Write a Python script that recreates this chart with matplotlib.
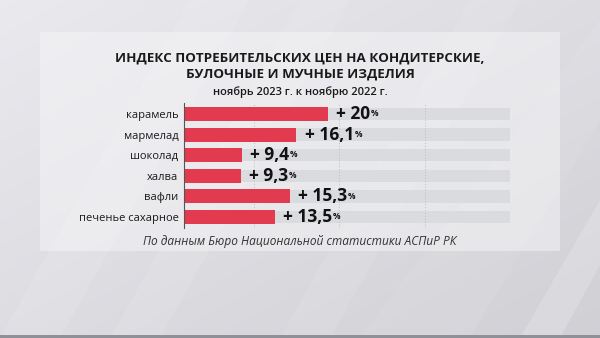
import matplotlib.pyplot as plt
import numpy as np
from matplotlib.patches import Polygon, Rectangle

plt.rcParams['font.family'] = ['Open Sans', 'DejaVu Sans']

# индекс цен, ноябрь 2023 к ноябрю 2022, прирост в %
products = ["карамель", "мармелад", "шоколад", "халва", "вафли", "печенье сахарное"]
growth = [20, 16.1, 9.4, 9.3, 15.3, 13.5]
labels = ["+ 20", "+ 16,1", "+ 9,4", "+ 9,3", "+ 15,3", "+ 13,5"]
track_max = 42.4

red = "#e23a4e"
track = "#d9dbdf"

W, H = 600, 338
fig = plt.figure(figsize=(W / 100, H / 100), dpi=100)

# фон: серый градиент с диагональными полосами
bg = fig.add_axes([0, 0, 1, 1])
bg.set_xlim(0, W)
bg.set_ylim(H, 0)
bg.axis("off")
xx, yy = np.meshgrid(np.linspace(0, 1, 300), np.linspace(0, 1, 170))
shade = 0.915 - 0.05 * yy - 0.05 * xx
img = np.dstack([shade, shade, shade + 0.02])
bg.imshow(np.clip(img, 0, 1), extent=(0, W, H, 0), aspect="auto", zorder=0)
for pts, a in [
    ([(0, 338), (60, 338), (250, 0), (190, 0)], 0.12),
    ([(110, 338), (160, 338), (350, 0), (300, 0)], 0.1),
    ([(280, 338), (330, 338), (520, 0), (470, 0)], 0.1),
    ([(360, 338), (470, 338), (600, 120), (600, 20)], 0.08),
    ([(520, 338), (560, 338), (600, 265), (600, 200)], 0.2),
]:
    bg.add_patch(Polygon(pts, closed=True, color="white", alpha=a, lw=0, zorder=1))
bg.add_patch(Rectangle((0, 335), W, 3, color="#8e9197", lw=0, zorder=2))
# светлая подложка под графиком
bg.add_patch(Rectangle((40, 32), 520, 219, color="#f6f6f8", alpha=0.5, lw=0, zorder=3))

# заголовок
fig.text(0.5, 1 - 58 / H, "ИНДЕКС ПОТРЕБИТЕЛЬСКИХ ЦЕН НА КОНДИТЕРСКИЕ,",
         ha="center", va="center", fontsize=9.6, fontweight="bold", color="#1a1a1a")
fig.text(0.5, 1 - 74 / H, "БУЛОЧНЫЕ И МУЧНЫЕ ИЗДЕЛИЯ",
         ha="center", va="center", fontsize=9.6, fontweight="bold", color="#1a1a1a")
fig.text(0.5, 1 - 92 / H, "ноябрь 2023 г. к ноябрю 2022 г.",
         ha="center", va="center", fontsize=8, fontweight="semibold", color="#1a1a1a")
fig.text(0.5, 1 - 241 / H, "По данным Бюро Национальной статистики АСПиР РК",
         ha="center", va="center", fontsize=8.6, style="italic", color="#333333")

# столбцы
ax = fig.add_axes([184 / W, 1 - 228 / H, 326 / W, 125 / H])
ax.patch.set_alpha(0)
y = np.arange(len(products))
ax.barh(y, [track_max] * len(products), height=0.6, color=track, zorder=1)
bars = ax.barh(y, growth, height=0.68, color=red, zorder=2)
ax.set_xlim(2.3, track_max)
ax.set_ylim(len(products) - 0.47, -0.53)

for v, yi, lab in zip(growth, y, labels):
    t = ax.annotate(lab, xy=(v, yi), xytext=(6, 0), textcoords="offset points",
                    ha="left", va="center", fontsize=12.5, fontweight="bold",
                    color="#111111", zorder=3)
    ax.annotate("%", xy=(1, 1), xycoords=t, xytext=(0.5, -3), textcoords="offset points",
                ha="left", va="top", fontsize=6, fontweight="bold", color="#111111")

ax.set_yticks(y)
ax.set_yticklabels(products, fontsize=8, fontweight="medium", color="#1a1a1a")
ax.tick_params(axis="y", length=0, pad=4)
ax.set_xticks([10.9, 21.4, 32.0, track_max])
ax.tick_params(axis="x", length=0, labelbottom=False)
ax.grid(axis="x", linestyle=(0, (1, 2)), color="#b8bbc0", lw=0.7, zorder=0)
for s in ["top", "right", "bottom"]:
    ax.spines[s].set_visible(False)
ax.spines["left"].set_color("#555555")
ax.spines["left"].set_linewidth(0.8)

fig.savefig("out.png", dpi=100)
